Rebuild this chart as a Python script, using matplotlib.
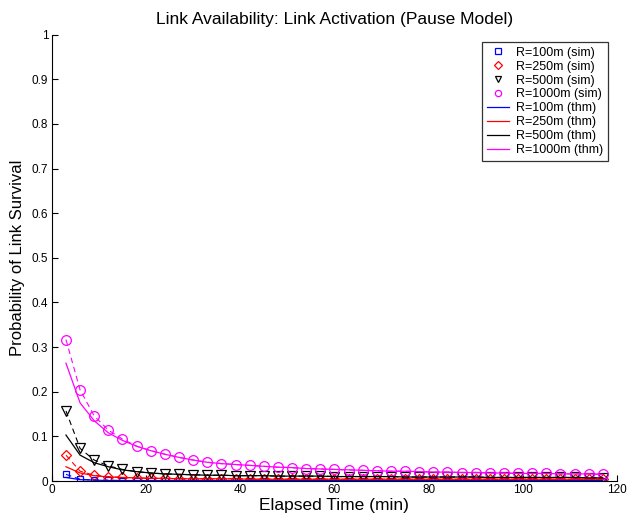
import matplotlib
matplotlib.use("Agg")
from matplotlib import pyplot as plt
from matplotlib.lines import Line2D

plt.rcParams["font.family"] = ["Liberation Sans", "DejaVu Sans"]

# elapsed time (min) at which link survival is sampled
time_min = [3, 6, 9, 12, 15, 18, 21, 24, 27, 30, 33, 36, 39, 42, 45, 48, 51, 54, 57, 60,
            63, 66, 69, 72, 75, 78, 81, 84, 87, 90, 93, 96, 99, 102, 105, 108, 111, 114, 117]

# simulation results
sim_100 = [0.015, 0.004, 0.002, 0.002, 0.001, 0.001, 0.001, 0.001, 0.001, 0.001,
           0.001, 0.001, 0.001, 0.001, 0.001, 0.001, 0.001, 0.001, 0.001, 0.001,
           0.001, 0.001, 0.001, 0.001, 0.001, 0.001, 0.001, 0.001, 0.001, 0.001,
           0.001, 0.001, 0.001, 0.001, 0.001, 0.001, 0.001, 0.001, 0.001]
sim_250 = [0.058, 0.022, 0.013, 0.010, 0.008, 0.007, 0.006, 0.006, 0.005, 0.005,
           0.005, 0.005, 0.005, 0.004, 0.004, 0.004, 0.004, 0.004, 0.004, 0.004,
           0.004, 0.004, 0.004, 0.004, 0.004, 0.004, 0.004, 0.004, 0.004, 0.004,
           0.004, 0.004, 0.004, 0.004, 0.004, 0.004, 0.004, 0.004, 0.004]
sim_500 = [0.157, 0.073, 0.047, 0.034, 0.026, 0.021, 0.018, 0.016, 0.015, 0.014,
           0.013, 0.013, 0.012, 0.012, 0.012, 0.011, 0.011, 0.011, 0.011, 0.010,
           0.010, 0.010, 0.010, 0.010, 0.009, 0.009, 0.009, 0.009, 0.009, 0.009,
           0.008, 0.008, 0.008, 0.008, 0.008, 0.008, 0.008, 0.007, 0.007]
sim_1000 = [0.317, 0.204, 0.146, 0.114, 0.094, 0.078, 0.068, 0.060, 0.053, 0.047,
            0.042, 0.039, 0.037, 0.035, 0.033, 0.031, 0.030, 0.028, 0.027, 0.026,
            0.025, 0.024, 0.023, 0.022, 0.022, 0.021, 0.020, 0.020, 0.019, 0.019,
            0.018, 0.018, 0.017, 0.017, 0.017, 0.016, 0.016, 0.016, 0.015]

# theoretical results
thm_100 = [0.008, 0.003, 0.002, 0.001, 0.001, 0.001, 0.001, 0.001, 0.001, 0.001,
           0.001, 0.001, 0.001, 0.001, 0.001, 0.001, 0.001, 0.001, 0.001, 0.001,
           0.001, 0.001, 0.001, 0.001, 0.001, 0.001, 0.001, 0.001, 0.001, 0.001,
           0.001, 0.001, 0.001, 0.001, 0.001, 0.001, 0.001, 0.001, 0.001]
thm_250 = [0.032, 0.018, 0.012, 0.009, 0.008, 0.007, 0.006, 0.006, 0.005, 0.005,
           0.005, 0.005, 0.005, 0.004, 0.004, 0.004, 0.004, 0.004, 0.004, 0.004,
           0.004, 0.004, 0.004, 0.004, 0.004, 0.004, 0.004, 0.004, 0.004, 0.004,
           0.004, 0.004, 0.004, 0.004, 0.004, 0.004, 0.004, 0.004, 0.004]
thm_500 = [0.103, 0.058, 0.041, 0.032, 0.025, 0.021, 0.018, 0.016, 0.015, 0.014,
           0.013, 0.013, 0.012, 0.012, 0.012, 0.011, 0.011, 0.011, 0.011, 0.010,
           0.010, 0.010, 0.010, 0.010, 0.009, 0.009, 0.009, 0.009, 0.009, 0.009,
           0.008, 0.008, 0.008, 0.008, 0.008, 0.008, 0.008, 0.007, 0.007]
thm_1000 = [0.264, 0.175, 0.135, 0.108, 0.091, 0.078, 0.068, 0.060, 0.053, 0.047,
            0.042, 0.039, 0.037, 0.035, 0.033, 0.031, 0.030, 0.028, 0.027, 0.026,
            0.025, 0.024, 0.023, 0.022, 0.022, 0.021, 0.020, 0.020, 0.019, 0.019,
            0.018, 0.018, 0.017, 0.017, 0.017, 0.016, 0.016, 0.016, 0.015]

labels = ["R=100m", "R=250m", "R=500m", "R=1000m"]
colors = ["#0000ff", "#ff0000", "#000000", "#ff00ff"]
markers = ["s", "D", "v", "o"]
msizes = [4.5, 5, 6.5, 7]
sims = [sim_100, sim_250, sim_500, sim_1000]
thms = [thm_100, thm_250, thm_500, thm_1000]

fig = plt.figure(figsize=(6.4, 5.22), dpi=100)
ax = fig.add_axes([0.081, 0.0785, 0.883, 0.855])

sim_handles = []
thm_handles = []
# simulation: markers joined by a dashed line
for sim, c, m, ms, lab in zip(sims, colors, markers, msizes, labels):
    ax.plot(time_min, sim, color=c, linestyle="--", dashes=(5, 3.5), linewidth=0.8,
            marker=m, markersize=ms, markerfacecolor="none",
            markeredgecolor=c, markeredgewidth=0.9)
    # legend shows only the marker, smaller
    sim_handles.append(Line2D([], [], linestyle="none", marker=m, markersize=4.5,
                              markerfacecolor="none", markeredgecolor=c,
                              markeredgewidth=0.9, label=lab + " (sim)"))
# theory: solid lines
for thm, c, lab in zip(thms, colors, labels):
    h, = ax.plot(time_min, thm, color=c, linestyle="-", linewidth=0.9,
                 label=lab + " (thm)")
    thm_handles.append(h)

ax.set_xlim(0, 120)
ax.set_ylim(0, 1)
ax.set_xticks(range(0, 121, 20))
ax.set_yticks([i / 10 for i in range(11)])
ax.set_yticklabels(["0", "0.1", "0.2", "0.3", "0.4", "0.5", "0.6", "0.7", "0.8", "0.9", "1"])
ax.tick_params(direction="in", labelsize=8.5, length=4, width=0.8, pad=2.5)
ax.spines["top"].set_visible(False)
ax.spines["right"].set_visible(False)

ax.set_title("Link Availability: Link Activation (Pause Model)", fontsize=12.5, pad=8)
ax.set_xlabel("Elapsed Time (min)", fontsize=12.5, labelpad=1)
ax.set_ylabel("Probability of Link Survival", fontsize=12, labelpad=5)

leg = fig.legend(handles=sim_handles + thm_handles, loc="upper left",
                 bbox_to_anchor=(0.753, 0.92), fontsize=9, frameon=True,
                 fancybox=False, handlelength=1.8, labelspacing=0.15,
                 borderpad=0.4, handletextpad=0.55, borderaxespad=0)
leg.get_frame().set_edgecolor("black")
leg.get_frame().set_linewidth(0.9)

fig.savefig("out.png", dpi=100)
